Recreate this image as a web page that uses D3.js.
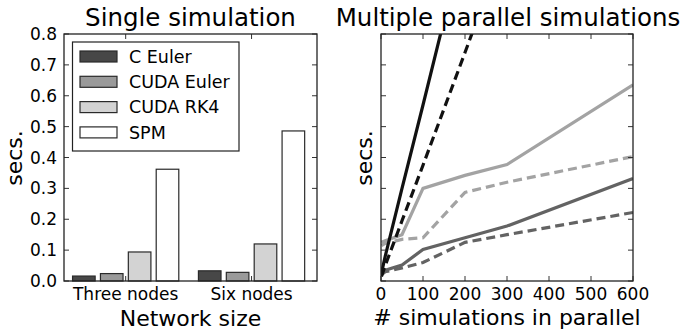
<!DOCTYPE html>
<html>
<head>
<meta charset="utf-8">
<script src="https://cdn.jsdelivr.net/npm/d3@7"></script>
<style>
body { margin: 0; background: #fff; }
text { font-family: "DejaVu Sans", sans-serif; fill: #000; }
</style>
</head>
<body>
<div class="chart"></div>
<script>
// data
const groups = ['Three nodes', 'Six nodes'];
const methods = ['C Euler', 'CUDA Euler', 'CUDA RK4', 'SPM'];
const methodColors = ['#474747', '#9a9a9a', '#d3d3d3', '#ffffff'];
const threeNodes = [0.016, 0.024, 0.094, 0.362];
const sixNodes = [0.033, 0.028, 0.12, 0.486];
const singleTicks = [0, 0.1, 0.2, 0.3, 0.4, 0.5, 0.6, 0.7, 0.8];

const simCounts = [1, 10, 50, 100, 200, 300, 600];
const blackSolid = [0.25, 0.8, 3.0, 5.7, 11.2, 16.7, 33];
const blackDashed = [0.15, 0.5, 1.95, 3.75, 7.4, 11.1, 22];
const lightSolid = [1.25, 1.3, 1.5, 3.0, 3.42, 3.77, 6.35];
const lightDashed = [1.15, 1.22, 1.35, 1.4, 2.87, 3.2, 4.03];
const darkSolid = [0.28, 0.35, 0.52, 1.02, 1.4, 1.78, 3.32];
const darkDashed = [0.2, 0.3, 0.42, 0.6, 1.25, 1.5, 2.22];
const parallelXTicks = [0, 100, 200, 300, 400, 500, 600];
const parallelYTicks = [0, 1, 2, 3, 4, 5, 6, 7, 8];

const width = 681;
const height = 333;
const plotTop = 34, plotBottom = 281;
const tickLen = 5;

const svg = d3.select('.chart')
	.append('svg')
	.attr('width', width)
	.attr('height', height)

//Left: single simulation bars
const x1 = d3.scaleLinear().domain([-0.49, 1.52]).range([64, 317]);
const y1 = d3.scaleLinear().domain([0, 0.8]).range([plotBottom, plotTop]);
const inner = d3.scaleBand().domain(methods).range([-0.422, 0.422]).paddingInner(0.19);

const left = svg.append('g');
const barData = [];
groups.forEach(function(g, gi){
	const vals = gi === 0 ? threeNodes : sixNodes;
	methods.forEach(function(m, mi){
		barData.push({group: gi, method: m, color: methodColors[mi], value: vals[mi]});
	});
});

left.selectAll('.bar')
	.data(barData)
	.enter()
	.append('rect')
	.attr('x', d => x1(d.group + inner(d.method)))
	.attr('width', x1(inner.bandwidth()) - x1(0))
	.attr('y', d => y1(d.value))
	.attr('height', d => y1(0) - y1(d.value))
	.attr('fill', d => d.color)
	.attr('stroke', '#2a2a2a')
	.attr('stroke-width', 1.2)

function frame(g, xs, ys, xTicks, yTicks, showYLabels, yFmt){
	const [xa, xb] = xs.range();
	// ticks pointing inward on all four sides
	g.selectAll('.yt').data(yTicks).enter().append('path')
		.attr('d', d => 'M' + xa + ',' + ys(d) + 'h' + tickLen + 'M' + xb + ',' + ys(d) + 'h' + (-tickLen))
		.attr('stroke', '#333').attr('stroke-width', 1)
	g.selectAll('.xt').data(xTicks.map(t => t.v)).enter().append('path')
		.attr('d', d => 'M' + xs(d) + ',' + plotBottom + 'v' + (-tickLen) + 'M' + xs(d) + ',' + plotTop + 'v' + tickLen)
		.attr('stroke', '#333').attr('stroke-width', 1)
	g.append('rect')
		.attr('x', xa).attr('y', plotTop)
		.attr('width', xb - xa).attr('height', plotBottom - plotTop)
		.attr('fill', 'none').attr('stroke', '#222').attr('stroke-width', 1.3)
	g.selectAll('.xl').data(xTicks).enter().append('text')
		.attr('x', d => xs(d.v)).attr('y', 300)
		.attr('text-anchor', 'middle').attr('font-size', 17)
		.text(d => d.label)
	if (showYLabels) {
		g.selectAll('.yl').data(yTicks).enter().append('text')
			.attr('x', xa - 7).attr('y', d => ys(d))
			.attr('dy', '0.36em')
			.attr('text-anchor', 'end').attr('font-size', 17)
			.text(d => yFmt(d))
	}
}

frame(left, x1, y1, groups.map((g, i) => ({v: i, label: g})), singleTicks, true, d3.format('.1f'));

// legend
const legend = left.append('g');
legend.append('rect')
	.attr('x', 72.5).attr('y', 42)
	.attr('width', 166.5).attr('height', 109)
	.attr('fill', '#fff').attr('stroke', '#222').attr('stroke-width', 1.2)
legend.selectAll('.patch')
	.data(methods)
	.enter()
	.append('rect')
	.attr('x', 80).attr('y', (d, i) => 51 + i * 25.3)
	.attr('width', 37).attr('height', 11)
	.attr('fill', (d, i) => methodColors[i])
	.attr('stroke', '#2a2a2a').attr('stroke-width', 1.2)
legend.selectAll('.lt')
	.data(methods)
	.enter()
	.append('text')
	.attr('x', 129).attr('y', (d, i) => 56.5 + i * 25.3)
	.attr('dy', '0.36em').attr('font-size', 17.5)
	.text(d => d)

left.append('text')
	.attr('x', 190.5).attr('y', 26)
	.attr('text-anchor', 'middle').attr('font-size', 24.5)
	.text('Single simulation')
left.append('text')
	.attr('x', 190.5).attr('y', 326)
	.attr('text-anchor', 'middle').attr('font-size', 22)
	.text('Network size')
left.append('text')
	.attr('transform', 'translate(22,158) rotate(-90)')
	.attr('text-anchor', 'middle').attr('font-size', 22)
	.text('secs.')

//Right: multiple parallel simulations
const x2 = d3.scaleLinear().domain([0, 600]).range([381, 633]);
const y2 = d3.scaleLinear().domain([0, 8]).range([plotBottom, plotTop]);
const right = svg.append('g');

right.append('clipPath').attr('id', 'clip')
	.append('rect')
	.attr('x', 381).attr('y', plotTop)
	.attr('width', 252).attr('height', plotBottom - plotTop)

const series = [
	{vals: lightSolid, color: '#a3a3a3', dash: null},
	{vals: lightDashed, color: '#a3a3a3', dash: '9,5'},
	{vals: darkSolid, color: '#636363', dash: null},
	{vals: darkDashed, color: '#636363', dash: '9,5'},
	{vals: blackDashed, color: '#111', dash: '9,5'},
	{vals: blackSolid, color: '#111', dash: null}
];
const line = d3.line()
	.x((d, i) => x2(simCounts[i]))
	.y(d => y2(d))

right.append('g').attr('clip-path', 'url(#clip)')
	.selectAll('.line')
	.data(series)
	.enter()
	.append('path')
	.attr('d', d => line(d.vals))
	.attr('fill', 'none')
	.attr('stroke', d => d.color)
	.attr('stroke-width', 3.2)
	.attr('stroke-dasharray', d => d.dash)

frame(right, x2, y2, parallelXTicks.map(t => ({v: t, label: t})), parallelYTicks, false);

right.append('text')
	.attr('x', 508).attr('y', 26)
	.attr('text-anchor', 'middle').attr('font-size', 24.5)
	.text('Multiple parallel simulations')
right.append('text')
	.attr('x', 507).attr('y', 325)
	.attr('text-anchor', 'middle').attr('font-size', 22)
	.text('# simulations in parallel')
right.append('text')
	.attr('transform', 'translate(372,158) rotate(-90)')
	.attr('text-anchor', 'middle').attr('font-size', 22)
	.text('secs.')
</script>
</body>
</html>
